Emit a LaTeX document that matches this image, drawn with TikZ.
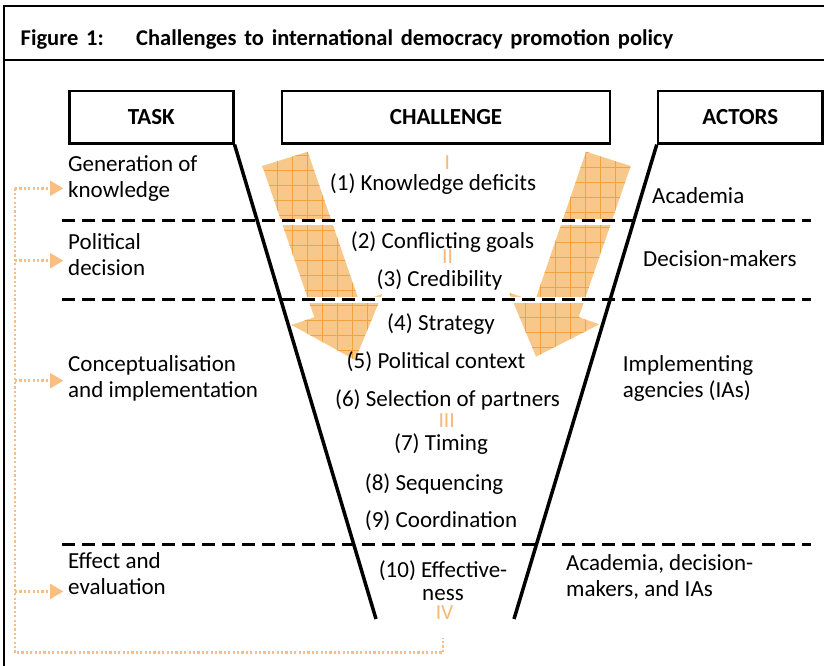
\documentclass[tikz,border=0pt]{standalone}
\usepackage{fontspec}
\setmainfont{Carlito}
\usetikzlibrary{arrows.meta}
\definecolor{arrfill}{HTML}{F8C88A}
\definecolor{gridcol}{HTML}{F2A240}
\definecolor{romcol}{HTML}{F7B878}
\definecolor{dotcol}{HTML}{F8BE82}
\newcommand{\twoL}[2]{\begin{tabular}[t]{@{}l@{}}#1\\#2\end{tabular}}
\newcommand{\twoC}[2]{\begin{tabular}[t]{@{}c@{}}#1\\[-2.5pt]#2\end{tabular}}
\newcommand{\wide}[1]{\spaceskip=7.8pt\relax #1}
\begin{document}
\begin{tikzpicture}[x=1pt,y=-1pt,
  body/.style={font=\fontsize{23}{26}\selectfont, inner sep=0pt},
  lbl/.style={body, anchor=base west},
  chal/.style={body, anchor=base},
  roman/.style={font=\fontsize{21.5}{26}\selectfont, text=romcol, inner sep=0pt, anchor=base},
  hdr/.style={draw, line width=2.5pt, font=\fontsize{23}{26}\selectfont\bfseries,
     minimum height=52.3pt, text height=15pt, text depth=0pt, inner sep=0pt},
  ttl/.style={font=\fontsize{22.5}{26}\selectfont\bfseries, inner sep=0pt, anchor=base west},
  frame/.style={line width=2.5pt},
  funnel/.style={line width=3.5pt},
  sep/.style={line width=3pt, dash pattern=on 12.5pt off 7.5pt},
  sepwhite/.style={line width=6pt, white},
  dotl/.style={dotcol, line width=2.5pt, dash pattern=on 2.2pt off 2.2pt},
  dotarr/.style={dotl, -{Triangle[length=13.3pt,width=15pt]}, shorten >=4.7pt},
  gridl/.style={gridcol, line width=0.8pt}
]
\useasboundingbox (0,0) rectangle (824,666);
\clip (0,0) rectangle (824,666);

% frame
\draw[frame] (4,680) -- (4,6) -- (840,6);
\draw[frame] (4,60) -- (840,60);

% title
\node[ttl] (fig) at (20.5,46) {\wide{Figure 1:}};
\node[ttl] (title) at (136,46) {\wide{Challenges to international democracy promotion policy}};

% header boxes
\node[hdr, minimum width=164pt] (task) at (151.3,117.2) {TASK};
\node[hdr, minimum width=328pt] (chall) at (446,117.2) {CHALLENGE};
\node[hdr, minimum width=164.5pt] (actors) at (740.25,117.2) {ACTORS};

% orange grid arrows
\def\leftarr{(262.3,166) -- (307.7,151.7) -- (359.4,301.9) -- (382.3,294) -- (355,360) -- (291.7,325) -- (314.3,317.3) -- cycle}
\def\rightarr{(586,151.7) -- (630.7,166) -- (578.7,317.1) -- (599.3,324.3) -- (536,356.7) -- (509.3,292.7) -- (534.8,301.5) -- cycle}
\fill[arrfill] \leftarr;
\fill[arrfill] \rightarr;
\begin{scope}
  \clip \leftarr;
  \foreach \gx in {262.5,277.5,...,382.5} \draw[gridl] (\gx,145) -- (\gx,365);
  \foreach \gy in {155,170,...,365} \draw[gridl] (255,\gy) -- (390,\gy);
\end{scope}
\begin{scope}
  \clip \rightarr;
  \foreach \gx in {510,525,...,630} \draw[gridl] (\gx,145) -- (\gx,365);
  \foreach \gy in {152,167,...,362} \draw[gridl] (500,\gy) -- (640,\gy);
\end{scope}

% dashed separators
\coordinate (s1l) at (62,220.5); \coordinate (s1r) at (811,220.5);
\coordinate (s2l) at (62,299.3); \coordinate (s2r) at (811,299.3);
\coordinate (s3l) at (62,544.5); \coordinate (s3r) at (811,544.5);
\draw[sepwhite] ([yshift=-1pt]s1l) -- ([yshift=-1pt]s1r);
\draw[sepwhite] ([yshift=-1pt]s2l) -- ([yshift=-1pt]s2r);
\draw[sep] (s1l) -- (s1r);
\draw[sep] (s2l) -- (s2r);
\draw[sep] (s3l) -- (s3r);

% funnel
\coordinate (fl) at (376,619);
\coordinate (fr) at (514,619);
\draw[funnel] (task.south east) -- (fl);
\draw[funnel] (actors.south west) -- (fr);

% task labels
\node[lbl] (gen) at (68,171.7) {\twoL{Generation of}{knowledge}};
\node[lbl] (pol) at (68,249) {\twoL{Political}{decision}};
\node[lbl] (con) at (68,371) {\twoL{Conceptualisation}{and implementation}};
\node[lbl] (eff) at (68,568) {\twoL{Effect and}{evaluation}};

% actors labels
\node[lbl] (aca) at (652,203) {Academia};
\node[lbl] (dec) at (643,266) {Decision-makers};
\node[lbl] (imp) at (622.7,371.7) {\twoL{Implementing}{agencies (IAs)}};
\node[lbl] (all) at (566,570) {\twoL{Academia, decision-}{makers, and IAs}};

% challenges
\node[chal] (c1) at (433,190) {(1) Knowledge deficits};
\node[chal] (c2) at (442.5,248) {(2) Conflicting goals};
\node[chal] (c3) at (439.5,286.7) {(3) Credibility};
\node[chal] (c4) at (441,330) {(4) Strategy};
\node[chal] (c5) at (436,368) {(5) Political context};
\node[chal] (c6) at (447.5,406.7) {(6) Selection of partners};
\node[chal] (c7) at (441,450) {(7) Timing};
\node[chal] (c8) at (434,490) {(8) Sequencing};
\node[chal] (c9) at (441,527) {(9) Coordination};
\node[chal] (c10) at (443,577) {\twoC{(10) Effective-}{ness}};

% roman numerals
\node[roman] (r1) at (447.3,169.3) {I};
\node[roman] (r2) at (447.5,263) {II};
\node[roman] (r3) at (446.7,427.3) {III};
\node[roman] (r4) at (444.6,619) {IV};

% dotted feedback lines
\coordinate (d1) at (15,188.3);
\coordinate (d2) at (15,260.7);
\coordinate (d3) at (15,380.7);
\coordinate (d4) at (15,591.4);
\coordinate (dB) at (15,652.7);
\coordinate (dR) at (443,652.7);
\coordinate (dT) at (443,638);
\draw[dotl] (d1) -- (dB) -- (dR) -- (dT);
\draw[dotarr] (d1) -- (gen.west |- d1);
\draw[dotarr] (d2) -- (pol.west |- d2);
\draw[dotarr] (d3) -- (con.west |- d3);
\draw[dotarr] (d4) -- (eff.west |- d4);
\end{tikzpicture}
\end{document}
